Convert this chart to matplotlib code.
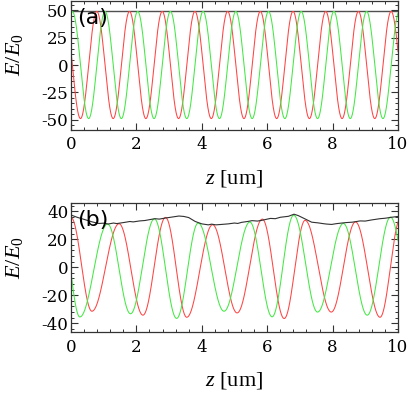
import numpy as np
import matplotlib
matplotlib.use("Agg")
import matplotlib.pyplot as plt
from matplotlib.ticker import MultipleLocator

plt.rcParams['axes.unicode_minus'] = False
plt.rcParams['mathtext.fontset'] = 'custom'
plt.rcParams['mathtext.it'] = 'Liberation Serif:italic'
plt.rcParams['mathtext.rm'] = 'Liberation Serif'

# ---------------- data ----------------
# Panel (a): extrema of the two field components (z in um, E/E0)
a_red_ext_z = [-0.21, 0.29, 0.79, 1.29, 1.79, 2.29, 2.79, 3.29, 3.79, 4.29, 4.79,
               5.29, 5.79, 6.29, 6.79, 7.29, 7.79, 8.29, 8.79, 9.29, 9.79, 10.29]
a_red_ext_v = [49, -49, 49, -49, 49, -49, 49, -49, 49, -49, 49,
               -49, 49, -49, 49, -49, 49, -49, 49, -49, 49, -49]
a_grn_ext_z = [-0.46, 0.04, 0.54, 1.04, 1.54, 2.04, 2.54, 3.04, 3.54, 4.04, 4.54,
               5.04, 5.54, 6.04, 6.54, 7.04, 7.54, 8.04, 8.54, 9.04, 9.54, 10.04]
a_grn_ext_v = [-49, 49, -49, 49, -49, 49, -49, 49, -49, 49, -49,
               49, -49, 49, -49, 49, -49, 49, -49, 49, -49, 49]
a_env_z = [0.0, 10.0]
a_env_v = [49, 49]

# Panel (b)
b_red_ext_z = [-0.68, 0.0, 0.64, 1.47, 2.20, 2.89, 3.54, 4.33, 5.08, 5.85,
               6.52, 7.16, 7.96, 8.70, 9.45, 10.08]
b_red_ext_v = [-30, 35.5, -31.4, 31.0, -34.2, 35.5, -35.7, 30.3, -32.6, 34.3,
               -36.6, 33.4, -32.0, 32.3, -35.7, 35.0]
b_grn_ext_z = [-0.30, 0.27, 1.12, 1.82, 2.55, 3.23, 3.89, 4.68, 5.47, 6.15,
               6.81, 7.54, 8.33, 9.06, 9.77, 10.47]
b_grn_ext_v = [33, -35.5, 30.8, -33.2, 34.5, -36.5, 31.5, -31.4, 32.2, -35.4,
               37.1, -32.0, 31.2, -34.2, 35.7, -33.0]
b_env_z = [0.0, 0.2, 0.43, 0.65, 0.85, 1.0, 1.14, 1.3, 1.4, 1.65, 1.8, 1.9, 2.1,
           2.26, 2.4, 2.57, 2.7, 2.87, 3.1, 3.3, 3.45, 3.6, 3.8, 4.0, 4.2, 4.3,
           4.43, 4.6, 4.81, 5.0, 5.1, 5.22, 5.4, 5.54, 5.7, 5.83, 6.1, 6.25, 6.4,
           6.65, 6.82, 6.95, 7.16, 7.36, 7.56, 7.7, 7.8, 7.97, 8.1, 8.17, 8.4,
           8.6, 8.84, 9.0, 9.19, 9.45, 9.6, 9.8, 10.0]
b_env_v = [37.2, 35.5, 33.9, 32.3, 31.2, 31.4, 30.8, 31.5, 31.1, 32.0, 32.6, 32.3,
           33.0, 33.3, 33.9, 34.6, 34.3, 35.0, 35.8, 36.5, 36.2, 35.4, 32.6, 30.9,
           30.2, 30.7, 30.2, 30.5, 30.9, 31.5, 31.2, 32.0, 32.6, 33.2, 32.9, 33.4,
           34.8, 34.6, 35.6, 36.3, 37.8, 36.8, 34.4, 32.1, 31.6, 31.1, 30.8, 30.5,
           31.0, 31.2, 31.8, 32.1, 33.0, 32.9, 33.7, 34.6, 34.9, 35.6, 36.2]

x_ticks = [0, 2, 4, 6, 8, 10]
a_y_ticks = [-50, -25, 0, 25, 50]
b_y_ticks = [-40, -20, 0, 20, 40]
panel_labels = ['(a)', '(b)']


def through_extrema(ez, ev, z):
    """Smooth curve passing through successive extrema (half-cosine segments)."""
    ez = np.asarray(ez, float)
    ev = np.asarray(ev, float)
    idx = np.clip(np.searchsorted(ez, z) - 1, 0, len(ez) - 2)
    t = (z - ez[idx]) / (ez[idx + 1] - ez[idx])
    return ev[idx] + (ev[idx + 1] - ev[idx]) * (1 - np.cos(np.pi * t)) / 2


z = np.linspace(0, 10, 2001)

W, H = 409, 395
fig = plt.figure(figsize=(W / 100, H / 100), dpi=100)
axA = fig.add_axes([71 / W, 1 - 129.5 / H, 327 / W, 129 / H])
axB = fig.add_axes([71 / W, 1 - 331.7 / H, 327 / W, 129 / H])

RED = '#ff4444'
GRN = '#44e844'

axA.plot(a_env_z, a_env_v, color='#505050', lw=1.0, zorder=1)
axA.plot(z, through_extrema(a_red_ext_z, a_red_ext_v, z), color=RED, lw=0.75, zorder=2)
axA.plot(z, through_extrema(a_grn_ext_z, a_grn_ext_v, z), color=GRN, lw=0.75, zorder=2)

axB.plot(z, through_extrema(b_red_ext_z, b_red_ext_v, z), color=RED, lw=0.75, zorder=2)
axB.plot(z, through_extrema(b_grn_ext_z, b_grn_ext_v, z), color=GRN, lw=0.75, zorder=2)
axB.plot(b_env_z, b_env_v, color='#303030', lw=0.8, zorder=3)

tick_font = dict(family='DejaVu Serif', size=12)
for ax, yt, ylim, ymin, lab in [(axA, a_y_ticks, (-59, 59), 5, panel_labels[0]),
                                (axB, b_y_ticks, (-46, 46), 4, panel_labels[1])]:
    ax.set_xlim(0, 10)
    ax.set_ylim(*ylim)
    ax.set_xticks(x_ticks)
    ax.set_yticks(yt)
    ax.set_xticklabels([str(v) for v in x_ticks], fontdict=tick_font)
    ax.set_yticklabels([str(v) for v in yt], fontdict=tick_font)
    ax.xaxis.set_minor_locator(MultipleLocator(0.4))
    ax.yaxis.set_minor_locator(MultipleLocator(ymin))
    ax.tick_params(which='both', direction='in', top=True, right=True, color='#333333')
    ax.tick_params(which='major', length=5, width=0.8)
    ax.tick_params(which='minor', length=2.5, width=0.7)
    ax.tick_params(axis='x', which='major', pad=5)
    ax.tick_params(axis='y', which='major', pad=2)
    for s in ax.spines.values():
        s.set_color('#333333')
        s.set_linewidth(0.9)
    ax.set_xlabel(r'$z$ [um]', fontsize=16, family='Liberation Serif')
    ax.xaxis.set_label_coords(0.5, -0.30)
    ax.set_ylabel(r'$E/E_0$', fontsize=16)
    ax.yaxis.set_label_coords(-0.142, 0.578)
    ax.text(0.066, 0.868, lab, transform=ax.transAxes, ha='center', va='center',
            fontsize=16, family='DejaVu Sans', zorder=5)

fig.savefig('out.png', dpi=100)
